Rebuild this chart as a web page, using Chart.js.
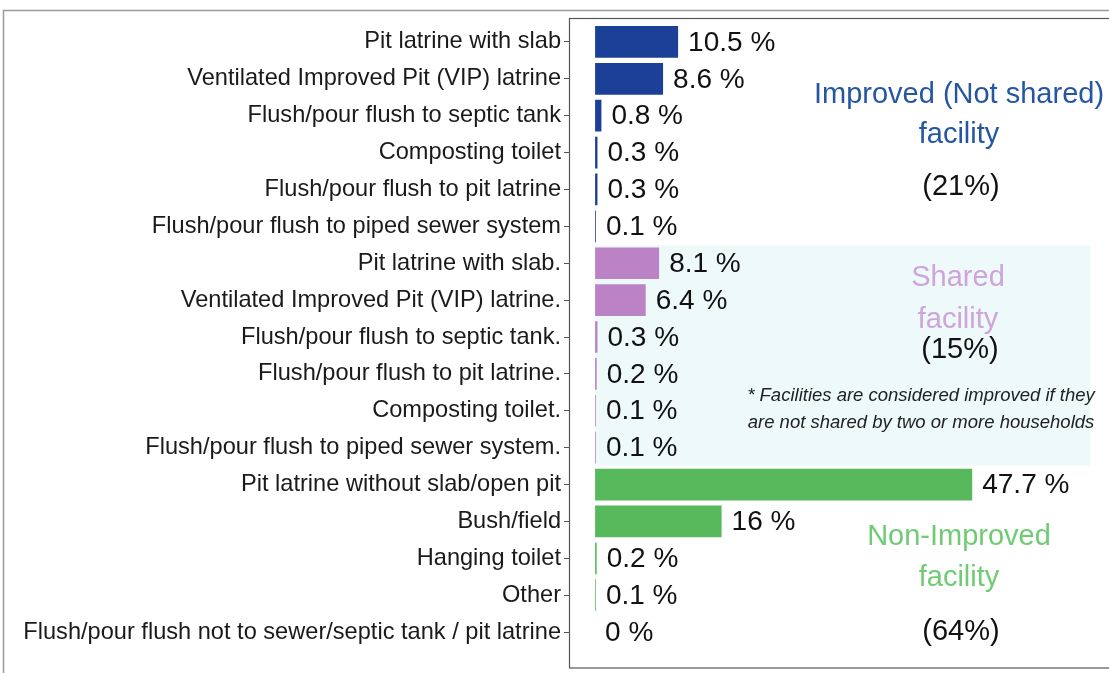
<!DOCTYPE html>
<html>
<head>
<meta charset="utf-8">
<script src="https://cdn.jsdelivr.net/npm/chart.js@4"></script>
<style>
  body { margin: 0; background: #fff; }
  #wrap { width: 1109px; height: 673px; position: relative; }
</style>
</head>
<body>
<div id="wrap"><canvas id="chart" width="1109" height="673"></canvas></div>
<script>
// Toilet facility types (top to bottom)
const categories = [
  "Pit latrine with slab",
  "Ventilated Improved Pit (VIP) latrine",
  "Flush/pour flush to septic tank",
  "Composting toilet",
  "Flush/pour flush to pit latrine",
  "Flush/pour flush to piped sewer system",
  "Pit latrine with slab.",
  "Ventilated Improved Pit (VIP) latrine.",
  "Flush/pour flush to septic tank.",
  "Flush/pour flush to pit latrine.",
  "Composting toilet.",
  "Flush/pour flush to piped sewer system.",
  "Pit latrine without slab/open pit",
  "Bush/field",
  "Hanging toilet",
  "Other",
  "Flush/pour flush not to sewer/septic tank / pit latrine"
];

// Percent of households
const percents = [10.5, 8.6, 0.8, 0.3, 0.3, 0.1, 8.1, 6.4, 0.3, 0.2, 0.1, 0.1, 47.7, 16, 0.2, 0.1, 0];

// Which group each bar belongs to
const groups = ["improved", "improved", "improved", "improved", "improved", "improved",
  "shared", "shared", "shared", "shared", "shared", "shared",
  "non", "non", "non", "non", "non"];

const groupColors = { improved: "#1c3f97", shared: "#bb82c6", non: "#58b95c" };

// Group annotations on the right
const groupNotes = [
  { lines: ["Improved (Not shared)", "facility"], color: "#2456a2", share: "(21%)" },
  { lines: ["Shared", "facility"], color: "#cfa4dc", share: "(15%)" },
  { lines: ["Non-Improved", "facility"], color: "#6fcb74", share: "(64%)" }
];
const footnote = ["* Facilities are considered improved if they", "are not shared by two or more households"];

const FONT = "'Liberation Sans', Arial, sans-serif";

// frame, value labels and group notes
const decorPlugin = {
  id: 'decor',
  beforeDraw(chart) {
    const ctx = chart.ctx;
    const y = chart.scales.y;
    ctx.save();
    // faint tint behind the shared block (as in the scan)
    const t = y.getPixelForValue(6) - 18, b = y.getPixelForValue(11) + 18;
    ctx.fillStyle = "rgba(222,246,246,0.5)";
    ctx.fillRect(595, t, 495, b - t);
    ctx.restore();
  },
  afterDraw(chart) {
    const ctx = chart.ctx;
    const meta = chart.getDatasetMeta(0);
    ctx.save();
    // outer frame
    ctx.strokeStyle = "#9a9a9a";
    ctx.lineWidth = 1.5;
    ctx.beginPath();
    ctx.moveTo(3.5, 673); ctx.lineTo(3.5, 10.5); ctx.lineTo(1109, 10.5);
    ctx.stroke();
    // plot frame
    ctx.strokeStyle = "#555";
    ctx.lineWidth = 1.2;
    ctx.strokeRect(569.5, 18.5, 545, 649.5);

    // value labels
    ctx.fillStyle = "#111";
    ctx.font = "28px " + FONT;
    ctx.textBaseline = "middle";
    ctx.textAlign = "left";
    meta.data.forEach((bar, i) => {
      ctx.fillText(percents[i] + " %", bar.x + 10, bar.y + 1);
    });

    // group notes
    ctx.textAlign = "center";
    const notePos = [
      { x: 959, ys: [95, 135], sy: 187 },
      { x: 958, ys: [278, 320], sy: 350 },
      { x: 959, ys: [537, 578], sy: 632 }
    ];
    groupNotes.forEach((g, k) => {
      const p = notePos[k];
      ctx.font = "29px " + FONT;
      ctx.fillStyle = g.color;
      g.lines.forEach((ln, j) => ctx.fillText(ln, p.x, p.ys[j]));
      ctx.fillStyle = "#111";
      ctx.fillText(g.share, p.x + 2, p.sy);
    });
    ctx.font = "italic 18.5px " + FONT;
    ctx.fillStyle = "#222";
    ctx.fillText(footnote[0], 921, 396);
    ctx.fillText(footnote[1], 921, 423);
    ctx.restore();
  }
};

new Chart(document.getElementById('chart'), {
  type: 'bar',
  data: {
    labels: categories,
    datasets: [{
      data: percents,
      backgroundColor: groups.map(g => groupColors[g]),
      barPercentage: 0.86,
      categoryPercentage: 1.0
    }]
  },
  options: {
    indexAxis: 'y',
    responsive: false,
    animation: false,
    layout: { padding: { top: 23.5, bottom: 22.5, right: 0 } },
    plugins: {
      legend: { display: false },
      tooltip: { enabled: false }
    },
    scales: {
      x: {
        display: false,
        min: -3.3,
        max: 65
      },
      y: {
        afterFit(scale) { scale.width = 569; },
        grid: { display: true, offset: false, drawOnChartArea: false, tickLength: 5, color: "#555" },
        border: { display: false },
        ticks: {
          color: "#1a1a1a",
          padding: 3,
          font: { family: FONT, size: 23.6 },
          autoSkip: false
        }
      }
    }
  },
  plugins: [decorPlugin]
});
</script>
</body>
</html>
